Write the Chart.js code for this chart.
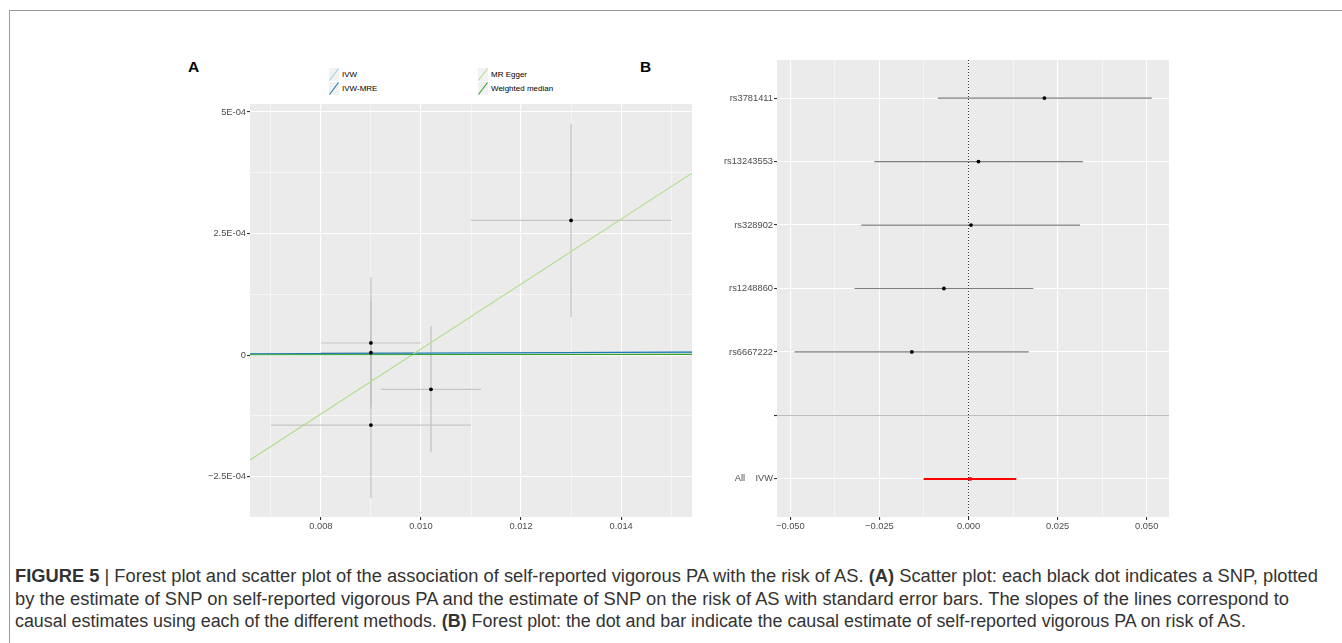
<!DOCTYPE html>
<html><head><meta charset="utf-8">
<script src="https://cdn.jsdelivr.net/npm/chart.js@4.4.0/dist/chart.umd.min.js"></script>
<style>
html,body{margin:0;padding:0;background:#fff;}
body{width:1342px;height:643px;position:relative;overflow:hidden;font-family:"Liberation Sans",Arial,sans-serif;}
#frame{position:absolute;left:9px;top:10px;width:1340px;height:640px;border-top:1px solid #9a9a9a;border-left:1px solid #9a9a9a;}
.plab{position:absolute;font-weight:bold;font-size:15.5px;line-height:16px;color:#000;}
#wrapA{position:absolute;left:150px;top:95px;width:560px;height:450px;}
#wrapB{position:absolute;left:680px;top:50px;width:500px;height:495px;}
.leg{position:absolute;font-size:8px;color:#000;display:flex;align-items:center;height:13px;white-space:nowrap;}
.leg svg{margin-right:3px;display:block;}
#caption{position:absolute;left:15px;top:565px;font-size:18px;line-height:22.5px;color:#333;white-space:nowrap;}
#caption div{white-space:nowrap;height:22.5px;}
#caption span.ln{display:inline-block;transform-origin:0 50%;}
</style></head>
<body>
<div id="frame"></div>
<div class="plab" style="left:188px;top:59px;">A</div>
<div class="plab" style="left:640px;top:59px;">B</div>
<div id="legend"></div>
<div id="wrapA"><canvas id="cA" width="560" height="450"></canvas></div>
<div id="wrapB"><canvas id="cB" width="500" height="495"></canvas></div>
<div id="caption">
<div><span class="ln"><b>FIGURE 5</b> | Forest plot and scatter plot of the association of self-reported vigorous PA with the risk of AS. <b>(A)</b> Scatter plot: each black dot indicates a SNP, plotted</span></div>
<div><span class="ln">by the estimate of SNP on self-reported vigorous PA and the estimate of SNP on the risk of AS with standard error bars. The slopes of the lines correspond to</span></div>
<div><span class="ln">causal estimates using each of the different methods. <b>(B)</b> Forest plot: the dot and bar indicate the causal estimate of self-reported vigorous PA on risk of AS.</span></div>
</div>
<script>
// ---------- Panel A data (scatter) ----------
const snpBx   = [0.013, 0.009, 0.009, 0.009, 0.0102];
const snpBy   = [2.77e-4, 2.5e-5, 5e-6, -1.44e-4, -7.05e-5];
const snpBxLo = [0.011, 0.008, 0.008, 0.007, 0.0092];
const snpBxHi = [0.015, 0.010, 0.0099, 0.011, 0.0112];
const snpByLo = [0.78e-4, -1.1e-4, -1.0e-4, -2.94e-4, -2.0e-4];
const snpByHi = [4.76e-4, 1.6e-4, 1.1e-4, 0.0, 0.6e-4];

const methods         = ['IVW', 'IVW-MRE', 'MR Egger', 'Weighted median'];
const methodColors    = ['#a6cee3', '#1f78b4', '#b2df8a', '#33a02c'];
const methodSlope     = [0.0004, 0.0004, 0.0668, 0.0001];
const methodIntercept = [0, 0, -6.555e-4, 0];

const xRangeA = [0.006584, 0.015416];
const yRangeA = [-3.33e-4, 5.164e-4];
const xMajorA = [0.008, 0.010, 0.012, 0.014];
const xMinorA = [0.007, 0.009, 0.011, 0.013, 0.015];
const xLabelsA = ['0.008', '0.010', '0.012', '0.014'];
const yMajorA = [-2.5e-4, 0, 2.5e-4, 5e-4];
const yMinorA = [-1.25e-4, 1.25e-4, 3.75e-4];
const yLabelsA = ['\u22122.5E-04', '0', '2.5E-04', '5E-04'];

// ---------- Panel B data (forest) ----------
const snpLabels = ['rs3781411', 'rs13243553', 'rs328902', 'rs1248860', 'rs6667222', '', 'All    IVW'];
const forestEst = [0.0213, 0.0028, 0.0007, -0.0069, -0.0159, null, 0.0005];
const forestLo  = [-0.0086, -0.0264, -0.0301, -0.0320, -0.0488, null, -0.0126];
const forestHi  = [0.0514, 0.0321, 0.0313, 0.0182, 0.0169, null, 0.0134];
const xRangeB = [-0.05373, 0.05625];
const xMajorB = [-0.05, -0.025, 0, 0.025, 0.05];
const xMinorB = [-0.0375, -0.0125, 0.0125, 0.0375];
const xLabelsB = ['\u22120.050', '\u22120.025', '0.000', '0.025', '0.050'];

// ---------- helpers ----------
const FONT = '"Liberation Sans", Arial, sans-serif';
const near = (a, b) => Math.abs(a - b) < 1e-12;
const idxIn = (arr, v) => arr.findIndex(t => near(t, v));
const bgPlugin = {id: 'bg', beforeDraw(chart) {
  const {ctx, chartArea: a} = chart;
  ctx.save(); ctx.fillStyle = '#EBEBEB';
  ctx.fillRect(a.left, a.top, a.right - a.left, a.bottom - a.top); ctx.restore();
}};
function axis(major, minor, labels, min, max, fitKey, fitVal) {
  return {
    type: 'linear', min: min, max: max,
    afterBuildTicks: s => { s.ticks = major.concat(minor).sort((a, b) => a - b).map(v => ({value: v})); },
    afterFit: s => { s[fitKey] = fitVal; },
    grid: {
      color: '#ffffff',
      lineWidth: c => (c.tick && idxIn(major, c.tick.value) >= 0) ? 1.1 : 0.55,
      tickLength: 3,
      tickColor: c => (c.tick && idxIn(major, c.tick.value) >= 0) ? '#333333' : 'rgba(0,0,0,0)',
      drawTicks: true
    },
    border: {display: false},
    ticks: {
      autoSkip: false, maxRotation: 0, minRotation: 0, padding: 1,
      color: '#4d4d4d', font: {family: FONT, size: 9.3},
      callback: v => { const i = idxIn(major, v); return i >= 0 ? labels[i] : ''; }
    }
  };
}

// ---------- Panel A ----------
const dsA = [];
snpBx.forEach((bx, i) => {
  dsA.push({data: [{x: snpBxLo[i], y: snpBy[i]}, {x: snpBxHi[i], y: snpBy[i]}],
    borderColor: '#C6C6C6', borderWidth: 1.1, pointRadius: 0, order: 3});
  dsA.push({data: [{x: bx, y: snpByLo[i]}, {x: bx, y: snpByHi[i]}],
    borderColor: '#BDBDBD', borderWidth: 1.1, pointRadius: 0, order: 3});
});
methods.forEach((m, i) => {
  dsA.push({label: m, data: xRangeA.map(x => ({x: x, y: methodIntercept[i] + methodSlope[i] * x})),
    borderColor: methodColors[i], borderWidth: 1.1, pointRadius: 0, order: 2 - i * 0.1});
});
dsA.push({data: snpBx.map((x, i) => ({x: x, y: snpBy[i]})), showLine: false,
  pointRadius: 1.9, pointBackgroundColor: '#000', pointBorderWidth: 0, order: 0});

new Chart(document.getElementById('cA'), {
  type: 'line',
  data: {datasets: dsA},
  options: {
    responsive: false, devicePixelRatio: 1, animation: false,
    layout: {padding: {top: 9, right: 18, left: 0, bottom: 0}},
    plugins: {legend: {display: false}, tooltip: {enabled: false}},
    scales: {
      x: axis(xMajorA, xMinorA, xLabelsA, xRangeA[0], xRangeA[1], 'height', 28),
      y: axis(yMajorA, yMinorA, yLabelsA, yRangeA[0], yRangeA[1], 'width', 100)
    }
  },
  plugins: [bgPlugin]
});

// legend (HTML)
const legPos = [[329, 68], [329, 82], [478, 68], [478, 82]];
const legEl = document.getElementById('legend');
methods.forEach((m, i) => {
  const d = document.createElement('div');
  d.className = 'leg';
  d.style.left = legPos[i][0] + 'px'; d.style.top = legPos[i][1] + 'px';
  d.innerHTML = '<svg width="10" height="13"><rect width="10" height="13" fill="#F2F2F2"/>' +
    '<line x1="0.5" y1="12.5" x2="9.5" y2="0.5" stroke="' + methodColors[i] + '" stroke-width="1.1"/></svg>';
  const t = document.createElement('span'); t.textContent = m; d.appendChild(t);
  legEl.appendChild(d);
});

// ---------- Panel B ----------
const dsB = [];
snpLabels.forEach((lab, i) => {
  if (forestEst[i] === null) return;
  const isAll = i === snpLabels.length - 1;
  dsB.push({data: [{x: forestLo[i], y: i + 1}, {x: forestHi[i], y: i + 1}],
    borderColor: isAll ? '#ff0000' : '#7f7f7f', borderWidth: isAll ? 2 : 1.2, pointRadius: 0, order: 3});
  dsB.push({data: [{x: forestEst[i], y: i + 1}], showLine: false,
    pointRadius: 1.9, pointBackgroundColor: isAll ? '#ff0000' : '#000', pointBorderWidth: 0, order: 0});
});
dsB.push({data: [{x: 0, y: 0.4}, {x: 0, y: 7.6}], borderColor: '#333', borderWidth: 1,
  borderDash: [1, 2], pointRadius: 0, order: 2});

const yTicksB = snpLabels.map((_, i) => i + 1);
new Chart(document.getElementById('cB'), {
  type: 'line',
  data: {datasets: dsB},
  options: {
    responsive: false, devicePixelRatio: 1, animation: false,
    layout: {padding: {top: 10, right: 11, left: 0, bottom: 0}},
    plugins: {legend: {display: false}, tooltip: {enabled: false}},
    scales: {
      x: axis(xMajorB, xMinorB, xLabelsB, xRangeB[0], xRangeB[1], 'height', 28),
      y: {
        type: 'linear', reverse: true, min: 0.4, max: 7.6,
        afterBuildTicks: s => { s.ticks = yTicksB.map(v => ({value: v})); },
        afterFit: s => { s.width = 97; },
        grid: {
          color: c => (c.tick && snpLabels[c.tick.value - 1] === '') ? '#BEBEBE' : '#ffffff',
          lineWidth: 1.1, tickLength: 3, tickColor: '#333333'
        },
        border: {display: false},
        ticks: {autoSkip: false, padding: 1, color: '#4d4d4d', font: {family: FONT, size: 9.3},
          callback: v => snpLabels[Math.round(v) - 1]}
      }
    }
  },
  plugins: [bgPlugin]
});

// caption line widths fitted to the reference
const captionWidths = [1303, 1274, 1231];
document.querySelectorAll('#caption span.ln').forEach((s, i) => {
  const w = s.getBoundingClientRect().width;
  if (w > 0) s.style.transform = 'scaleX(' + (captionWidths[i] / w).toFixed(4) + ')';
});
</script>
</body></html>
